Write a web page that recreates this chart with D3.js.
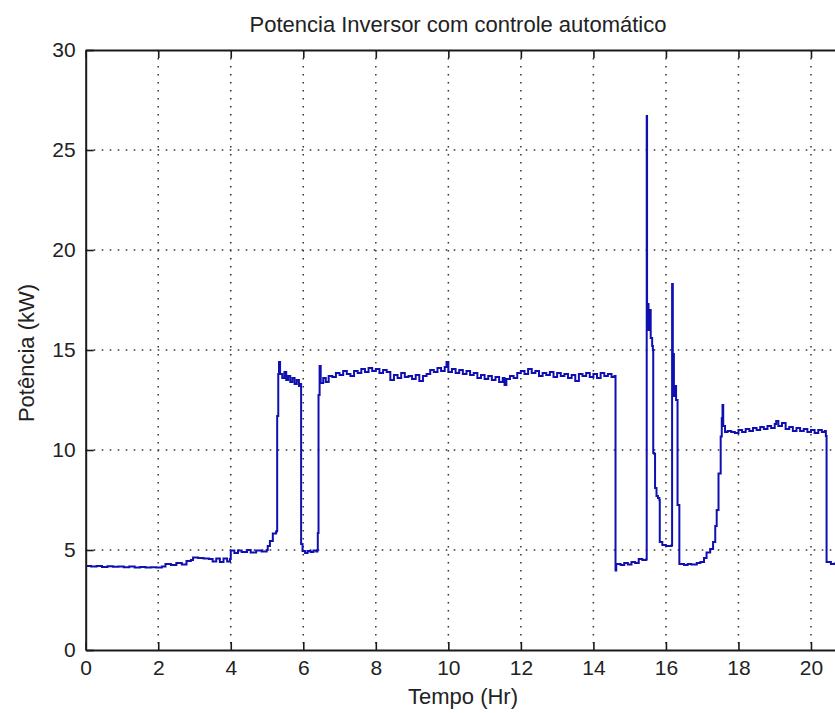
<!DOCTYPE html>
<html>
<head>
<meta charset="utf-8">
<script src="https://cdn.jsdelivr.net/npm/d3@7"></script>
<style>
  html, body { margin: 0; padding: 0; background: #ffffff; }
  svg { display: block; }
  text { font-family: "Liberation Sans", Arial, Helvetica, sans-serif; fill: #222; }
</style>
</head>
<body>
<svg id="chart" width="835" height="713"></svg>
<script>
// ---- data ----
const title = "Potencia Inversor com controle automático";
const xLabel = "Tempo (Hr)";
const yLabel = "Potência (kW)";
const xTicks = [0, 2, 4, 6, 8, 10, 12, 14, 16, 18, 20];
const yTicks = [0, 5, 10, 15, 20, 25, 30];

const hours = [
  0.00, 0.15, 0.30, 0.45, 0.60, 0.75, 0.90, 1.05, 1.20, 1.35, 1.50, 1.65, 1.80, 1.95,
  2.10, 2.20, 2.35, 2.50, 2.65, 2.78, 2.90, 2.96, 3.10, 3.25, 3.40, 3.50, 3.60, 3.70,
  3.80, 3.90, 3.98, 4.00, 4.10, 4.20, 4.30, 4.45, 4.55, 4.70, 4.85, 4.99, 5.02, 5.08,
  5.16, 5.25, 5.27, 5.28, 5.31, 5.33, 5.36, 5.42, 5.48, 5.53, 5.58, 5.64, 5.70, 5.76,
  5.82, 5.88, 5.92, 5.94, 5.98, 6.05, 6.12, 6.20, 6.28, 6.36, 6.39, 6.40, 6.42, 6.45,
  6.48, 6.55, 6.62, 6.70, 6.80, 6.90, 7.00, 7.10, 7.20, 7.30, 7.40, 7.50, 7.60, 7.70,
  7.80, 7.90, 8.00, 8.10, 8.20, 8.30, 8.40, 8.50, 8.60, 8.70, 8.80, 8.90, 9.00, 9.10,
  9.20, 9.30, 9.40, 9.50, 9.60, 9.70, 9.80, 9.90, 9.95, 10.00, 10.10, 10.20, 10.30,
  10.40, 10.50, 10.60, 10.70, 10.80, 10.90, 11.00, 11.10, 11.20, 11.30, 11.40, 11.50,
  11.55, 11.60, 11.70, 11.80, 11.90, 12.00, 12.10, 12.20, 12.30, 12.40, 12.50, 12.60,
  12.70, 12.80, 12.90, 13.00, 13.10, 13.20, 13.30, 13.40, 13.50, 13.60, 13.70, 13.80,
  13.90, 14.00, 14.10, 14.20, 14.30, 14.40, 14.50, 14.58, 14.61, 14.63, 14.75, 14.85,
  14.95, 15.05, 15.15, 15.25, 15.35, 15.46, 15.47, 15.48, 15.52, 15.55, 15.58, 15.62,
  15.64, 15.65, 15.68, 15.70, 15.74, 15.78, 15.82, 15.83, 15.90, 16.00, 16.10, 16.16,
  16.17, 16.19, 16.22, 16.25, 16.28, 16.32, 16.37, 16.50, 16.60, 16.70, 16.85, 16.95,
  17.05, 17.12, 17.22, 17.30, 17.36, 17.40, 17.45, 17.51, 17.54, 17.56, 17.58, 17.63,
  17.70, 17.80, 17.90, 18.00, 18.10, 18.20, 18.30, 18.40, 18.50, 18.60, 18.70, 18.80,
  18.90, 19.00, 19.04, 19.10, 19.20, 19.30, 19.40, 19.50, 19.60, 19.70, 19.80, 19.90,
  20.00, 20.10, 20.20, 20.30, 20.38, 20.41, 20.43, 20.55, 20.65, 20.80
];
const power = [
  4.20, 4.17, 4.20, 4.15, 4.19, 4.16, 4.18, 4.14, 4.17, 4.13, 4.15, 4.12, 4.14, 4.13,
  4.18, 4.30, 4.25, 4.35, 4.28, 4.45, 4.50, 4.62, 4.60, 4.57, 4.55, 4.42, 4.58, 4.40,
  4.57, 4.42, 4.55, 4.97, 4.85, 4.98, 4.90, 5.00, 4.88, 4.98, 4.92, 5.00, 5.20, 5.45,
  5.83, 5.92, 5.95, 11.70, 13.80, 14.40, 13.80, 13.60, 13.90, 13.50, 13.70, 13.40, 13.60, 13.30,
  13.50, 13.20, 13.30, 5.30, 4.95, 4.85, 4.95, 4.90, 4.98, 4.92, 5.00, 5.85, 12.75, 14.20,
  13.35, 13.60, 13.40, 13.70, 13.65, 13.85, 13.75, 13.95, 13.80, 13.70, 13.95, 13.85, 14.05, 13.90,
  14.10, 13.95, 14.05, 13.85, 14.00, 13.90, 13.50, 13.75, 13.60, 13.85, 13.65, 13.70, 13.55, 13.75,
  13.45, 13.70, 13.80, 14.00, 13.90, 14.10, 13.95, 14.15, 14.40, 13.90, 14.05, 13.85, 14.00,
  13.80, 13.95, 13.75, 13.85, 13.60, 13.75, 13.55, 13.70, 13.50, 13.65, 13.40, 13.60,
  13.25, 13.55, 13.70, 13.60, 13.85, 13.95, 13.80, 14.05, 13.85, 13.95, 13.70, 13.85,
  13.75, 13.90, 13.65, 13.85, 13.70, 13.80, 13.60, 13.75, 13.45, 13.80, 13.70, 13.85,
  13.65, 13.80, 13.60, 13.85, 13.70, 13.80, 13.65, 13.70, 3.97, 4.30, 4.25, 4.35,
  4.28, 4.40, 4.35, 4.55, 4.50, 4.55, 26.70, 17.30, 16.00, 17.00, 15.60, 15.20,
  15.00, 9.85, 9.80, 8.10, 7.70, 7.60, 7.50, 5.40, 5.25, 5.20, 5.20, 5.25,
  18.30, 14.80, 12.70, 13.20, 12.50, 7.25, 4.30, 4.25, 4.30, 4.28, 4.35, 4.40,
  4.60, 4.87, 5.05, 5.40, 6.20, 7.00, 8.83, 10.67, 11.60, 12.25, 11.20, 10.90,
  10.95, 10.90, 10.85, 11.00, 10.90, 11.05, 10.95, 11.10, 11.00, 11.15, 11.05, 11.20,
  11.10, 11.30, 11.45, 11.20, 11.35, 11.05, 11.15, 10.95, 11.10, 10.95, 11.05, 10.90,
  11.00, 10.85, 11.00, 10.90, 10.95, 10.70, 4.40, 4.30, 4.32, 4.30
];

// ---- layout ----
const svg = d3.select("#chart");
const pLeft = 85.7, pRight = 840, pTop = 50, pBottom = 650;
const x = d3.scaleLinear().domain([0, 20.8]).range([pLeft, pRight]);
const y = d3.scaleLinear().domain([0, 30]).range([pBottom, pTop]);
const ink = "#1a1a1a";

// grid (dotted)
const grid = svg.append("g");
grid.selectAll("line.vx").data(xTicks.filter(d => d > 0)).join("line")
  .attr("x1", d => x(d)).attr("x2", d => x(d))
  .attr("y1", pTop).attr("y2", pBottom)
  .attr("stroke", "#333").attr("stroke-width", 1.5).attr("stroke-dasharray", "1.6,6.4");
grid.selectAll("line.hy").data(yTicks.filter(d => d > 0 && d < 30)).join("line")
  .attr("x1", pLeft).attr("x2", pRight)
  .attr("y1", d => y(d)).attr("y2", d => y(d))
  .attr("stroke", "#333").attr("stroke-width", 1.5).attr("stroke-dasharray", "1.6,6.4");

// data line (sampled signal drawn as steps)
svg.append("clipPath").attr("id", "clip").append("rect")
  .attr("x", pLeft).attr("y", pTop).attr("width", pRight - pLeft).attr("height", pBottom - pTop);
const pts = hours.map((h, i) => [h, power[i]]);
svg.append("path")
  .datum(pts)
  .attr("clip-path", "url(#clip)")
  .attr("fill", "none")
  .attr("stroke", "#1010b0")
  .attr("stroke-width", 2)
  .attr("d", d3.line().curve(d3.curveStepAfter).x(d => x(d[0])).y(d => y(d[1])));

// axes
function styleAxis(g) {
  g.select(".domain").attr("stroke", ink).attr("stroke-width", 2);
  g.selectAll(".tick line").attr("stroke", ink).attr("stroke-width", 1.6);
  g.selectAll(".tick text").attr("font-size", 21).attr("fill", "#222")
    .attr("font-family", "'Liberation Sans', Arial, sans-serif");
}
svg.append("g").attr("transform", `translate(0,${pBottom})`)
  .call(d3.axisBottom(x).tickValues(xTicks).tickFormat(d3.format("d")).tickSize(-8).tickSizeOuter(0).tickPadding(10))
  .call(styleAxis);
svg.append("g").attr("transform", `translate(0,${pTop})`)
  .call(d3.axisTop(x).tickValues(xTicks).tickFormat("").tickSize(-8).tickSizeOuter(0))
  .call(styleAxis);
svg.append("g").attr("transform", `translate(${pLeft},0)`)
  .call(d3.axisLeft(y).tickValues(yTicks).tickFormat(d3.format("d")).tickSize(-8).tickSizeOuter(0).tickPadding(10))
  .call(styleAxis);

// labels
svg.append("text").attr("x", 458).attr("y", 32).attr("text-anchor", "middle")
  .attr("font-size", 22).text(title);
svg.append("text").attr("x", 463).attr("y", 704).attr("text-anchor", "middle")
  .attr("font-size", 22).text(xLabel);
svg.append("text").attr("transform", `translate(34,${(pTop + pBottom) / 2 + 3}) rotate(-90)`)
  .attr("text-anchor", "middle").attr("font-size", 22).text(yLabel);
</script>
</body>
</html>
